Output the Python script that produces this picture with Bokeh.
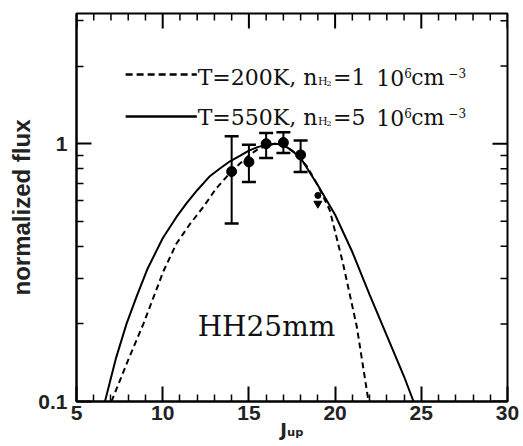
import math
from bokeh.plotting import figure
from bokeh.models import ColumnDataSource, FixedTicker, Whisker, TeeHead, Label
from bokeh.embed import file_html
from bokeh.resources import INLINE

# ---- data -------------------------------------------------------------
x_ticks = [5, 10, 15, 20, 25, 30]
x_minor = [j for j in range(6, 30) if j % 5 != 0]
y_ticks = [0.1, 1]
y_tick_labels = {0.1: "0.1", 1: "1"}
y_minor = [0.2, 0.3, 0.4, 0.5, 0.6, 0.7, 0.8, 0.9, 2, 3]

X_MIN, X_MAX = 5, 30
Y_MIN, Y_MAX = 0.1, 3.2

# model T=550K, n=5e6 (solid)
solid_j = [6.65, 7.3, 7.9, 8.5, 9.1, 10.0, 10.8, 11.4, 12.0, 12.75, 13.3, 13.9,
           14.5, 15.0, 15.5, 16.0, 16.5, 17.0, 17.5, 18.0, 19.0, 20.0, 21.0,
           22.0, 23.0, 24.0, 24.55]
solid_f = [0.1, 0.148, 0.2, 0.257, 0.325, 0.43, 0.52, 0.59, 0.66, 0.75, 0.80, 0.855,
           0.90, 0.94, 0.97, 0.99, 1.0, 0.99, 0.94, 0.88, 0.69, 0.53, 0.38,
           0.26, 0.18, 0.125, 0.1]

# model T=200K, n=1e6 (dashed)
dashed_j = [7.03, 8.0, 8.88, 10.04, 10.8, 11.6, 12.37, 13.1, 13.9, 14.5, 15.0,
            15.5, 16.0, 16.5, 17.0, 17.7, 18.35, 19.0, 19.7, 20.45, 21.26, 21.94]
dashed_f = [0.1, 0.145, 0.2, 0.32, 0.41, 0.49, 0.57, 0.67, 0.77, 0.84, 0.9,
            0.95, 0.98, 1.0, 0.99, 0.92, 0.82, 0.69, 0.55, 0.345, 0.195, 0.1]

# observed points
obs_j = [14, 15, 16, 17, 18]
obs_f = [0.78, 0.85, 1.0, 1.01, 0.905]
obs_lo = [0.49, 0.71, 0.88, 0.92, 0.776]
obs_hi = [1.07, 0.99, 1.10, 1.107, 1.03]

# upper limit
ul_j = [19]
ul_f = [0.63]

# ---- figure -----------------------------------------------------------
p = figure(width=523, height=446, x_range=(X_MIN, X_MAX), y_range=(Y_MIN, Y_MAX),
           y_axis_type="log", output_backend="svg", toolbar_location=None,
           min_border_left=76, min_border_right=16, min_border_top=13,
           min_border_bottom=45)
p.grid.visible = False
p.outline_line_color = "black"
p.outline_line_width = 2
p.background_fill_color = "white"
p.border_fill_color = "white"

TICK_FONT = "Liberation Sans"


def style(ax, ticks, minor):
    ax.ticker = FixedTicker(ticks=ticks, minor_ticks=minor)
    ax.axis_line_width = 2
    ax.major_tick_in = 15
    ax.major_tick_out = 0
    ax.minor_tick_in = 7
    ax.minor_tick_out = 0
    ax.major_tick_line_width = 2
    ax.minor_tick_line_width = 1.5
    ax.major_label_text_font = TICK_FONT
    ax.major_label_text_font_style = "bold"
    ax.major_label_text_font_size = "21px"
    ax.major_label_text_color = "#222222"


style(p.xaxis[0], x_ticks, x_minor)
p.xaxis[0].major_label_standoff = 4
p.xaxis[0].axis_label = "Jᵤₚ"
p.xaxis[0].axis_label_text_font = "DejaVu Sans"
p.xaxis[0].axis_label_text_font_style = "bold"
p.xaxis[0].axis_label_text_font_size = "18px"
p.xaxis[0].axis_label_text_color = "#222222"
p.xaxis[0].axis_label_standoff = -4

style(p.yaxis[0], y_ticks, y_minor)
p.yaxis[0].major_label_overrides = y_tick_labels
p.yaxis[0].major_label_standoff = 9
p.yaxis[0].axis_label = "normalized flux"
p.yaxis[0].axis_label_text_font = TICK_FONT
p.yaxis[0].axis_label_text_font_style = "bold"
p.yaxis[0].axis_label_text_font_size = "24px"
p.yaxis[0].axis_label_text_color = "#222222"
p.yaxis[0].axis_label_standoff = 0

# ticks on the top and right sides (mirrors of the bottom / left ones)
p.ray(x=x_ticks, y=[Y_MAX] * len(x_ticks), length=15, length_units="screen",
      angle=-math.pi / 2, line_color="black", line_width=2)
p.ray(x=x_minor, y=[Y_MAX] * len(x_minor), length=7, length_units="screen",
      angle=-math.pi / 2, line_color="black", line_width=1.5)
p.ray(x=[X_MAX] * len(y_ticks), y=y_ticks, length=15, length_units="screen",
      angle=math.pi, line_color="black", line_width=2)
p.ray(x=[X_MAX] * len(y_minor), y=y_minor, length=7, length_units="screen",
      angle=math.pi, line_color="black", line_width=1.5)

# model curves
p.line(solid_j, solid_f, line_color="black", line_width=2)
p.line(dashed_j, dashed_f, line_color="black", line_width=2, line_dash="6 4")

# error bars and points
src = ColumnDataSource(dict(x=obs_j, y=obs_f, lo=obs_lo, hi=obs_hi))
p.add_layout(Whisker(source=src, base="x", upper="hi", lower="lo",
                     dimension="height", line_width=2, line_color="black",
                     upper_head=TeeHead(size=14, line_width=2.5),
                     lower_head=TeeHead(size=14, line_width=2.5)))
p.scatter("x", "y", source=src, size=10, color="black")

# upper limit marker
p.scatter(ul_j, ul_f, size=6, color="black")
p.scatter(ul_j, [v * 0.93 for v in ul_f], marker="inverted_triangle", size=8,
          color="black")

# ---- legend (drawn inside the frame) -----------------------------------
SERIF = "DejaVu Serif"
p.line([7.85, 11.98], [1.856, 1.856], line_color="black", line_width=2.5,
       line_dash="7 4")
p.line([7.85, 11.98], [1.274, 1.274], line_color="black", line_width=2.5)


def lab(x, y, text, size, font=SERIF, style="normal", baseline="alphabetic"):
    p.add_layout(Label(x=x, y=y, text=text, text_font=font,
                       text_font_size=f"{size}px", text_font_style=style,
                       text_color="#111111", text_baseline=baseline))


rows = [("T=200K, n", "=1", 1.806, 1.743, 1.712, 1.889),
        ("T=550K, n", "=5", 1.262, 1.218, 1.196, 1.320)]
for head, num, yb, ysub, ysub2, ysup in rows:
    lab(12.03, yb, head, 22)
    lab(19.01, ysub, "H", 11)
    lab(19.50, ysub2, "2", 8)
    lab(19.88, yb, num, 22)
    lab(22.38, yb, "10", 22)
    lab(24.01, ysup, "6", 12)
    lab(24.42, yb, "cm", 22)
    lab(26.57, ysup, "−3", 12)

lab(12.03, 0.1957, "HH25mm", 28)

open("out.html", "w").write(file_html(p, INLINE))
